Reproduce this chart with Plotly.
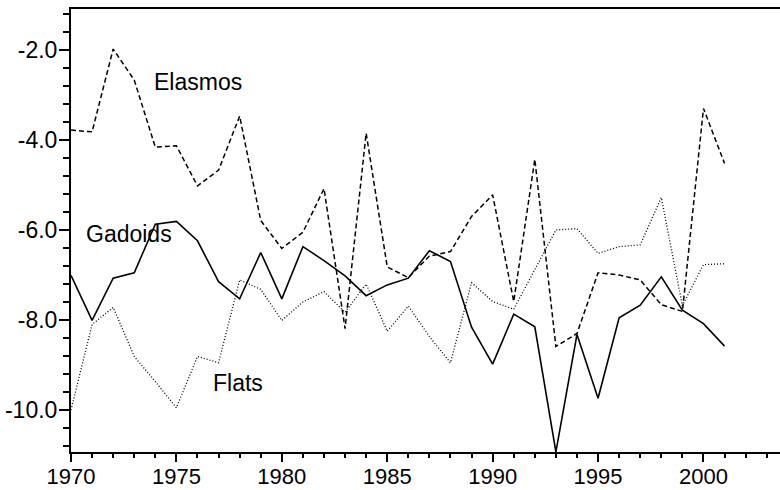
import plotly.graph_objects as go

# Annual index values by species group
years = list(range(1970, 2002))

elasmos = [-3.78, -3.82, -1.98, -2.67, -4.16, -4.13, -5.02, -4.67, -3.47, -5.79,
           -6.41, -6.05, -5.08, -8.19, -3.85, -6.82, -7.06, -6.58, -6.48, -5.70,
           -5.22, -7.59, -4.43, -8.59, -8.30, -6.95, -7.00, -7.11, -7.66, -7.81,
           -3.30, -4.52]

gadoids = [-7.01, -8.01, -7.07, -6.95, -5.87, -5.81, -6.24, -7.15, -7.53, -6.50,
           -7.53, -6.37, -6.68, -7.02, -7.46, -7.22, -7.07, -6.46, -6.70, -8.16,
           -8.98, -7.87, -8.15, -10.93, -8.32, -9.74, -7.95, -7.67, -7.04, -7.78,
           -8.08, -8.58]

flats = [-10.00, -8.10, -7.72, -8.81, -9.37, -9.95, -8.81, -8.95, -7.11, -7.32,
         -8.01, -7.60, -7.37, -7.83, -7.20, -8.25, -7.69, -8.37, -8.95, -7.17,
         -7.59, -7.76, -6.88, -6.00, -5.97, -6.52, -6.37, -6.33, -5.28, -7.68,
         -6.77, -6.75]

x_tick_vals = [1970, 1975, 1980, 1985, 1990, 1995, 2000]
x_tick_text = ["1970", "1975", "1980", "1985", "1990", "1995", "2000"]
y_tick_vals = [-2, -4, -6, -8, -10]
y_tick_text = ["-2.0", "-4.0", "-6.0", "-8.0", "-10.0"]

# Series name, values, dash style, width, label position
series = [
    ("Elasmos", elasmos, "5px,3px", 1.5, 1973.85, -2.72),
    ("Gadoids", gadoids, "solid", 1.6, 1970.6, -6.08),
    ("Flats", flats, "1px,2px", 1.3, 1976.62, -9.40),
]

FONT = "Liberation Sans, Arial, sans-serif"

fig = go.Figure()
for name, vals, dash, width, lx, ly in series:
    fig.add_trace(go.Scatter(
        x=years, y=vals, mode="lines", name=name,
        line=dict(color="black", width=width, dash=dash),
        showlegend=False,
    ))
    fig.add_annotation(
        x=lx, y=ly, text=name, showarrow=False,
        xanchor="left", yanchor="middle",
        font=dict(family=FONT, size=23, color="black"),
    )

fig.update_layout(
    width=780, height=490,
    margin=dict(l=71, r=0, t=9, b=38),
    paper_bgcolor="white", plot_bgcolor="white",
    font=dict(family=FONT, size=23, color="black"),
    xaxis=dict(
        range=[1970, 2003.63], automargin=False,
        tickvals=x_tick_vals, ticktext=x_tick_text,
        tickfont=dict(family=FONT, size=22, color="black"),
        ticks="outside", ticklen=8, tickwidth=1.5, tickcolor="black",
        ticklabelstandoff=-4,
        minor=dict(dtick=1, tick0=1970, ticks="outside", ticklen=4,
                   tickwidth=1.5, tickcolor="black"),
        showline=True, linecolor="black", linewidth=2, mirror=True,
        showgrid=False, zeroline=False,
    ),
    yaxis=dict(
        range=[-10.933, -1.09], automargin=False,
        tickvals=y_tick_vals, ticktext=y_tick_text,
        ticks="outside", ticklen=10, tickwidth=1.5, tickcolor="black",
        ticklabelstandoff=-3,
        minor=dict(dtick=0.4, tick0=-2, ticks="outside", ticklen=6,
                   tickwidth=1.5, tickcolor="black"),
        showline=True, linecolor="black", linewidth=2,
        showgrid=False, zeroline=False,
    ),
)

fig.write_html("out.html")
